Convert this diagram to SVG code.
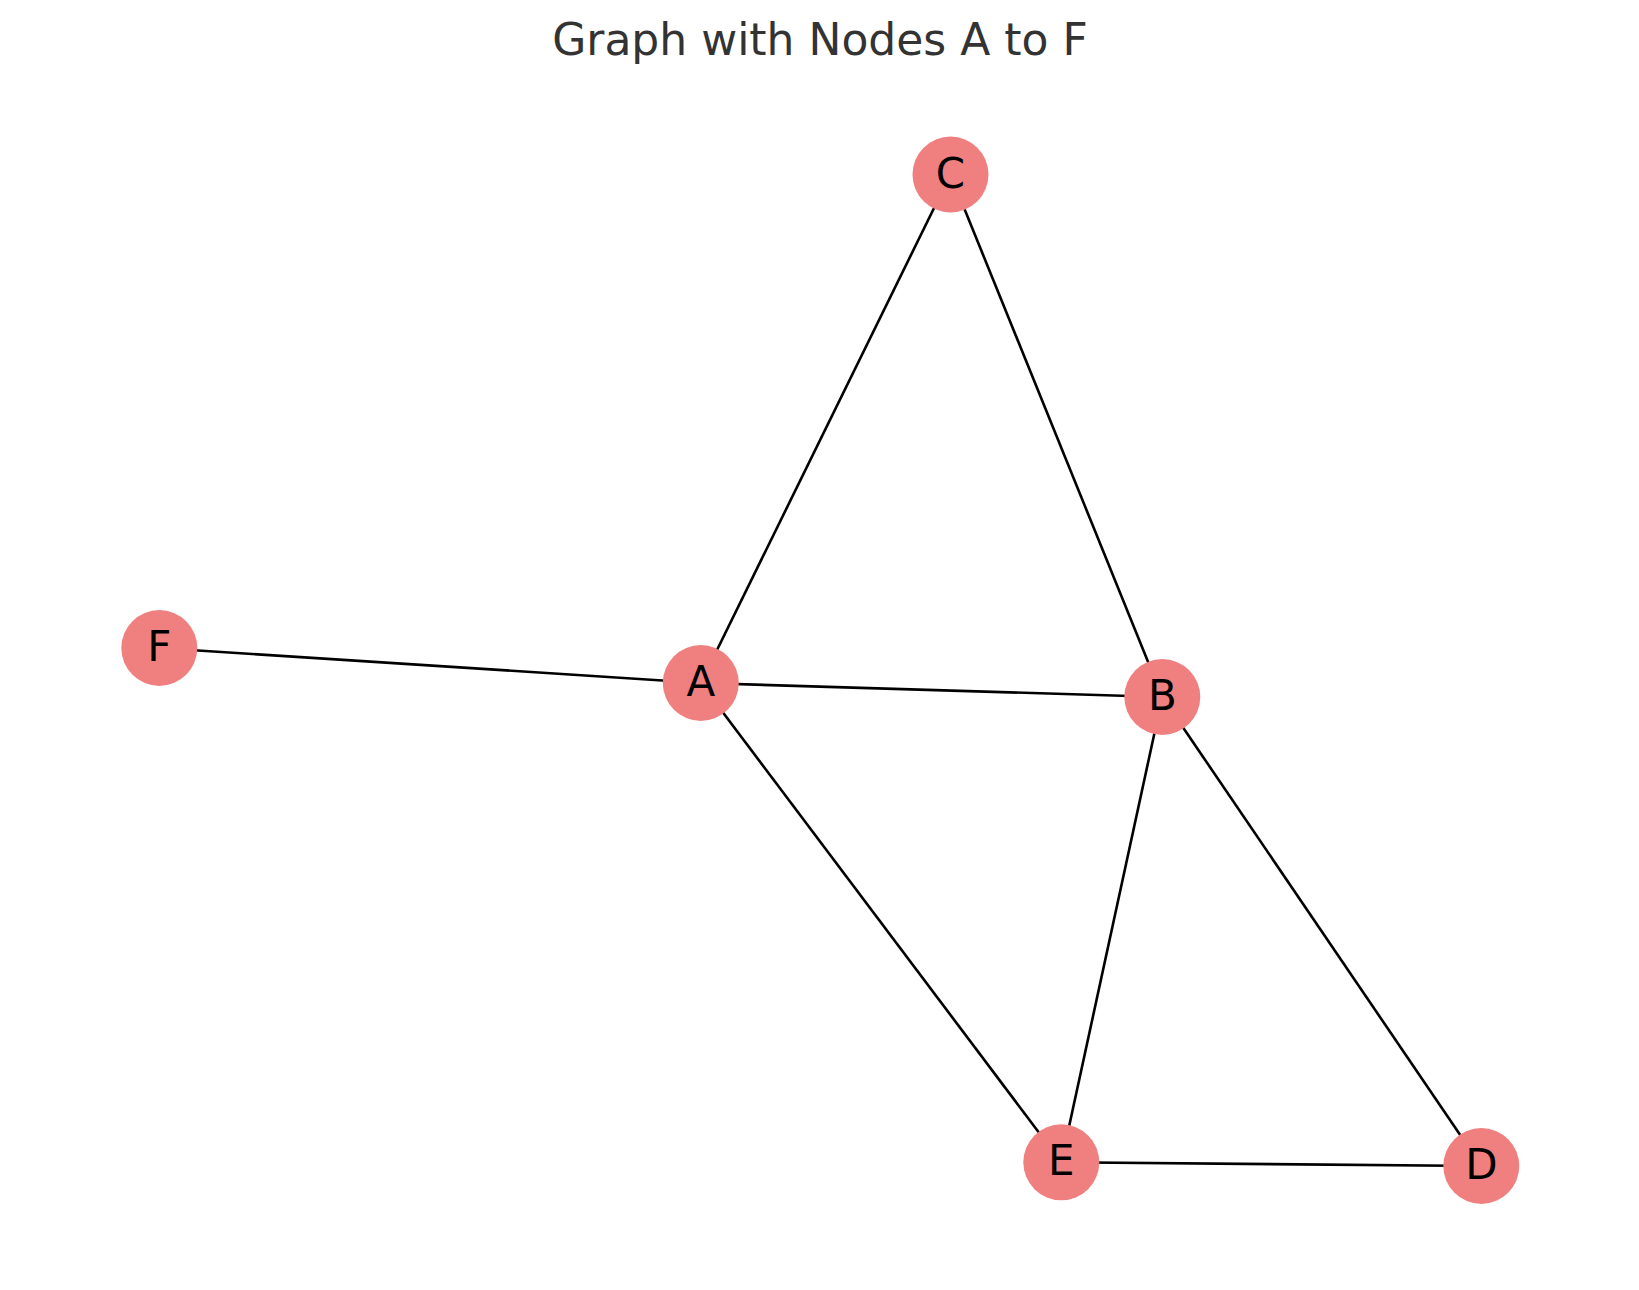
<svg xmlns="http://www.w3.org/2000/svg" width="1639" height="1290" viewBox="0 0 1639 1290">
<style>
.node circle{fill:#F08080;}
.node text{font-family:"DejaVu Sans",sans-serif;font-size:42px;fill:#000;text-anchor:middle;}
.edges line{stroke:#000;stroke-width:2.6;}
.title{font-family:"DejaVu Sans",sans-serif;font-size:44px;fill:#333;text-anchor:middle;}
</style>
<rect width="1639" height="1290" fill="#fff"/>
<text class="title" x="820" y="55">Graph with Nodes A to F</text>
<g id="edges" class="edges">
<line x1="700.8" y1="683" x2="950.5" y2="174.5"/>
<line x1="700.8" y1="683" x2="159.3" y2="648"/>
<line x1="700.8" y1="683" x2="1162.3" y2="697"/>
<line x1="700.8" y1="683" x2="1061.3" y2="1162.3"/>
<line x1="950.5" y1="174.5" x2="1162.3" y2="697"/>
<line x1="1162.3" y1="697" x2="1061.3" y2="1162.3"/>
<line x1="1162.3" y1="697" x2="1481.3" y2="1166"/>
<line x1="1061.3" y1="1162.3" x2="1481.3" y2="1166"/>
</g>
<g id="node-A" class="node"><circle cx="700.8" cy="683" r="38"/><text x="700.8" y="696">A</text></g>
<g id="node-B" class="node"><circle cx="1162.3" cy="697" r="38"/><text x="1162.3" y="710">B</text></g>
<g id="node-C" class="node"><circle cx="950.5" cy="174.5" r="38"/><text x="950.5" y="187.5">C</text></g>
<g id="node-D" class="node"><circle cx="1481.3" cy="1166" r="38"/><text x="1481.3" y="1179">D</text></g>
<g id="node-E" class="node"><circle cx="1061.3" cy="1162.3" r="38"/><text x="1061.3" y="1175.3">E</text></g>
<g id="node-F" class="node"><circle cx="159.3" cy="648" r="38"/><text x="159.3" y="661">F</text></g>
</svg>
